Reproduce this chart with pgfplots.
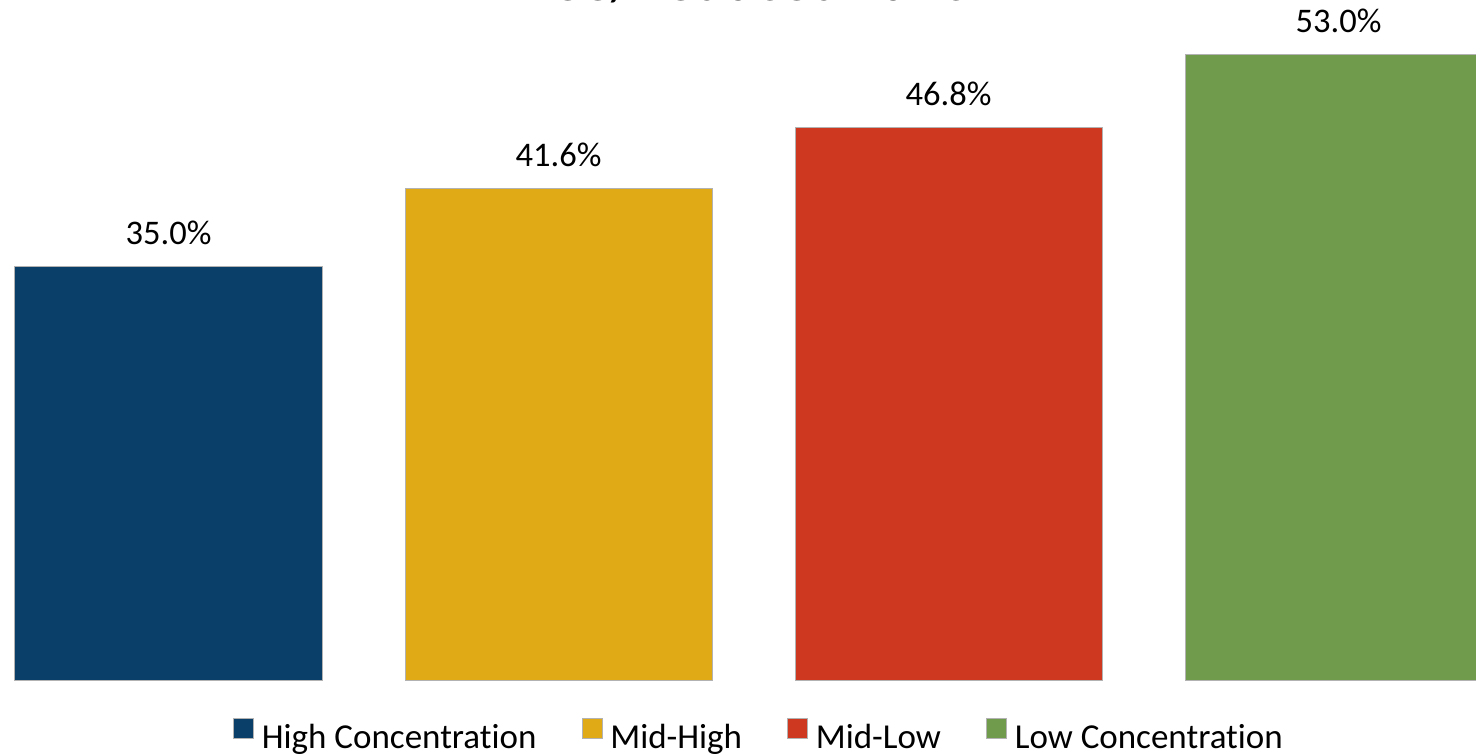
\documentclass[border=0pt]{standalone}
\usepackage{pgfplots}
\pgfplotsset{compat=1.18}
\usepackage{fontspec}
\setmainfont{Carlito}[Ligatures=CommonOff]
\definecolor{cblue}{HTML}{0A3F6A}
\definecolor{cyellow}{HTML}{E0AA17}
\definecolor{cred}{HTML}{CF3820}
\definecolor{cgreen}{HTML}{709B4C}
\begin{document}
\begin{tikzpicture}
\begin{axis}[
  at={(0pt,0pt)}, anchor=south west,
  scale only axis, width=1476pt, height=755pt,
  hide axis,
  xmin=-0.43205, xmax=3.35256,
  ymin=-6.2553, ymax=57.566,
  ybar, bar width=307pt,
  /pgf/number format/assume math mode=true,
  nodes near coords={\pgfmathprintnumber[fixed,fixed zerofill,precision=1]{\pgfplotspointmeta}\%},
  every node near coord/.append style={font=\fontsize{34.5}{40}\selectfont, inner sep=0pt, yshift=22pt, anchor=base, text=black},
  legend columns=4,
  legend style={at={(rel axis cs:0.5142,0.0265)}, anchor=center, draw=none, fill=none,
    font=\fontsize{35}{40}\selectfont,
    /tikz/every odd column/.style={column sep=6pt},
    /tikz/every even column/.style={column sep=43pt}},
  legend image code/.code={\draw[#1, draw=gray!60, line width=0.8pt] (0pt,-2pt) rectangle (20pt,18pt);},
]
\addplot[fill=cblue, draw=gray!60, line width=1pt, bar shift=0pt] coordinates {(0,35.0)};
\addplot[fill=cyellow, draw=gray!60, line width=1pt, bar shift=0pt] coordinates {(1,41.6)};
\addplot[fill=cred, draw=gray!60, line width=1pt, bar shift=0pt] coordinates {(2,46.8)};
\addplot[fill=cgreen, draw=gray!60, line width=1pt, bar shift=0pt] coordinates {(3,53.0)};
\legend{High Concentration, Mid-High, Mid-Low, Low Concentration}
\end{axis}
\node[anchor=base, inner sep=0pt, font=\fontsize{59}{70}\selectfont] at (752pt,754pt) {Free/Reduced Lunch};
\pgfresetboundingbox
\useasboundingbox (0pt,0pt) rectangle (1476pt,755pt);
\end{tikzpicture}
\end{document}
